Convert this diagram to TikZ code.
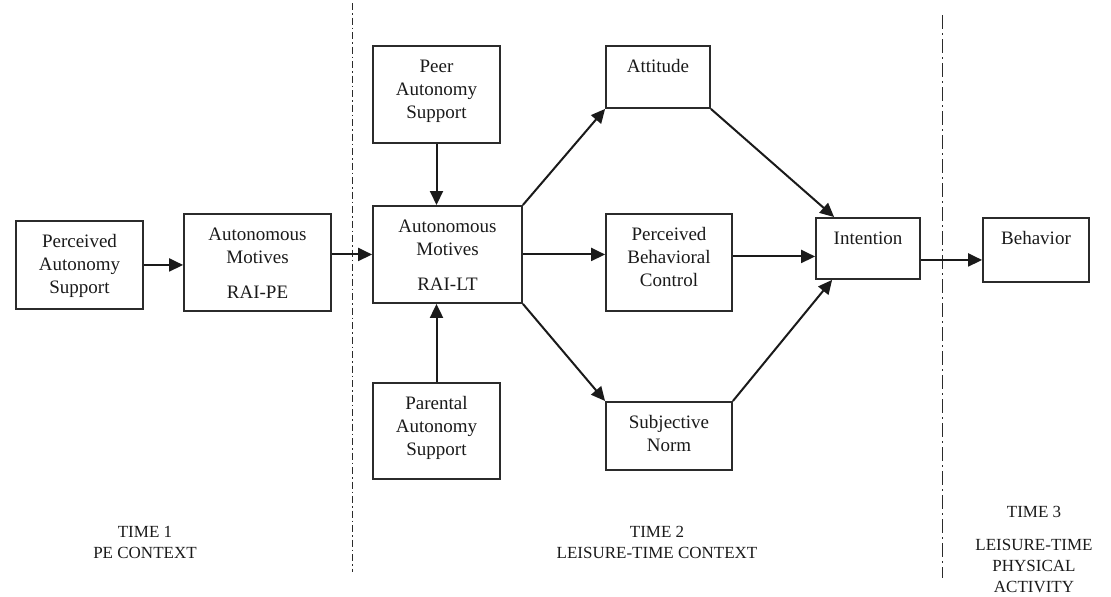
\documentclass[tikz,border=0pt]{standalone}
\usepackage{fontspec}
\setmainfont{Liberation Serif}
\usetikzlibrary{arrows.meta,positioning}
\definecolor{LineGray}{HTML}{2B2B2B}
\definecolor{DarkText}{HTML}{1A1A1A}
\newcommand{\stacktext}[1]{\begin{tabular}[t]{@{}c@{}}#1\end{tabular}}
\tikzset{
  box/.style={draw=LineGray, line width=0.9pt, anchor=north, inner xsep=2pt, inner ysep=5pt, text=DarkText, font=\fontsize{9.5}{11.5}\selectfont},
  arr/.style={-{Triangle[length=7pt,width=6.5pt]}, line width=1pt, draw=DarkText},
  timelabel/.style={align=center, text=DarkText, font=\fontsize{8.5}{10.5}\selectfont},
  divider/.style={draw=LineGray, line width=0.5pt}
}

\begin{document}
\begin{tikzpicture}[x=0.5pt,y=-0.5pt]
\useasboundingbox (0,0) rectangle (1111,596);
% time 1
\node[box,minimum width=63.5pt,text depth=26pt] (pas) at (79.5,220) {\stacktext{Perceived\\Autonomy\\Support}};
\node[box,minimum width=73.5pt,text depth=30.5pt] (ampe) at (257.5,213) {\stacktext{Autonomous\\Motives\\[6pt]RAI-PE}};
% time 2
\node[box,minimum width=63.5pt,text depth=30.5pt] (peer) at (436.5,45) {\stacktext{Peer\\Autonomy\\Support}};
\node[box,minimum width=74.5pt,text depth=30.5pt] (amlt) at (447.5,205) {\stacktext{Autonomous\\Motives\\[6pt]RAI-LT}};
\node[box,minimum width=63.5pt,text depth=30pt] (par) at (436.5,382) {\stacktext{Parental\\Autonomy\\Support}};
\node[box,minimum width=52pt,text depth=13pt] (att) at (658,45) {\stacktext{Attitude}};
\node[box,minimum width=63pt,text depth=30.5pt] (pbc) at (669,213) {\stacktext{Perceived\\Behavioral\\Control}};
\node[box,minimum width=63pt,text depth=16pt] (sn) at (669,401) {\stacktext{Subjective\\Norm}};
\node[box,minimum width=52pt,text depth=12.5pt] (int) at (868,217) {\stacktext{Intention}};
% time 3
\node[box,minimum width=53pt,text depth=14pt] (beh) at (1036,217) {\stacktext{Behavior}};

\draw[divider,dash pattern=on 3.5pt off 1.5pt on 0.75pt off 1.5pt] (352.5,3) -- (352.5,572);
\draw[divider,dash pattern=on 7pt off 2pt on 1pt off 2pt] (942,15) -- (942,578);

\draw[arr] (pas.east) -- (pas.east -| ampe.west);
\draw[arr] (amlt.west -| ampe.east) -- (amlt.west);
\draw[arr] (peer.south) -- (peer.south |- amlt.north);
\draw[arr] (par.north) -- (par.north |- amlt.south);
\draw[arr] (amlt.north east) -- (att.south west);
\draw[arr] (amlt.east) -- (amlt.east -| pbc.west);
\draw[arr] (amlt.south east) -- (sn.north west);
\draw[arr] (att.south east) -- ([xshift=9.5pt]int.north west);
\draw[arr] ([yshift=-4pt]int.west -| pbc.east) -- ([yshift=-4pt]int.west);
\draw[arr] (sn.north east) -- ([xshift=8.5pt]int.south west);
\draw[arr] ([yshift=-5.75pt]int.east) -- ([yshift=-5.75pt]int.east -| beh.west);

\node[timelabel] (t1) at (145,542.5) {TIME 1\\PE CONTEXT};
\node[timelabel] (t2) at (657,542.5) {TIME 2\\LEISURE-TIME CONTEXT};
\node[timelabel] (t3) at (1034,549) {TIME 3\\[6pt]LEISURE-TIME\\PHYSICAL\\ACTIVITY};
\end{tikzpicture}
\end{document}
